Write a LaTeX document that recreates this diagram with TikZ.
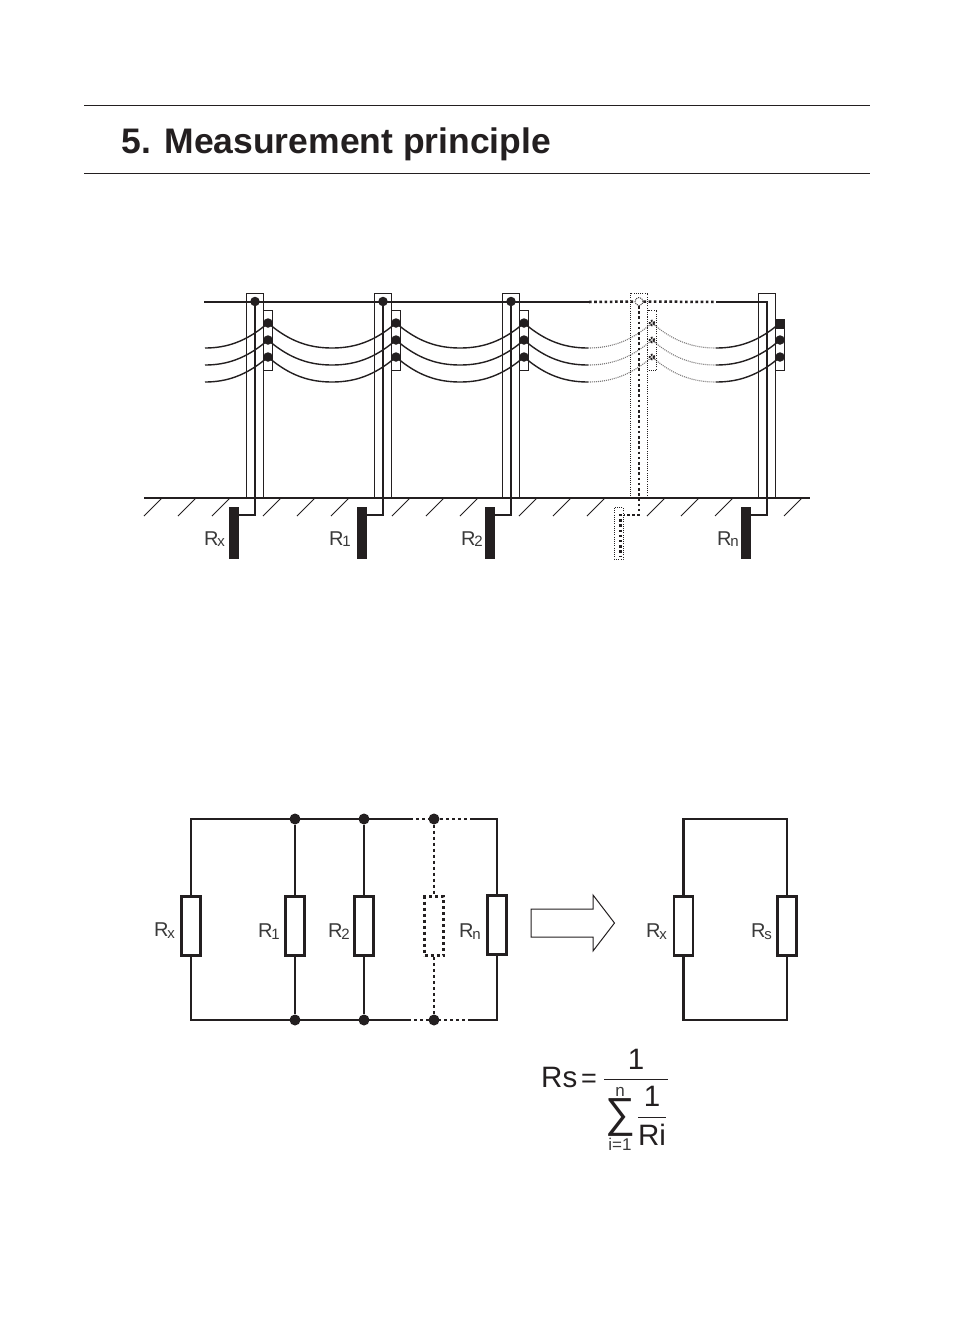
\documentclass[tikz,border=0pt]{standalone}
\usepackage{fontspec}
\setmainfont{Liberation Sans}
\newcommand{\fs}[1]{\fontsize{#1}{#1}\selectfont}
\definecolor{ink}{HTML}{231F20}
\definecolor{lab}{HTML}{3A3A3A}
\tikzset{
  rulel/.style={draw=ink,line width=1pt},
  polebox/.style={draw=ink,line width=1pt,fill=none},
  dotbox/.style={draw=ink,line width=1pt,dash pattern=on 1pt off 1.2pt},
  heavy/.style={draw=ink,line width=2.5pt},
  heavydot/.style={draw=ink,line width=2.5pt,dash pattern=on 2.6pt off 2.6pt},
  cable/.style={draw=ink,line width=1.4pt},
  cablefade/.style={draw=ink!60,line width=1.1pt,dash pattern=on 1pt off 1pt},
  jdot/.style={circle,fill=ink,inner sep=0pt,minimum size=9.5pt},
  cdot/.style={circle,fill=ink,inner sep=0pt,minimum size=11pt},
  elec/.style={rectangle,fill=ink,inner sep=0pt,minimum width=10pt,minimum height=52pt},
  wire/.style={draw=ink,line width=2.8pt},
  wiredot/.style={draw=ink,line width=2.8pt,dash pattern=on 3pt off 3pt},
  res/.style={rectangle,draw=ink,line width=2.8pt,fill=white,inner sep=0pt,minimum width=19pt,minimum height=59pt},
  resdot/.style={rectangle,draw=ink,line width=2.8pt,dash pattern=on 3pt off 3pt,fill=white,inner sep=0pt,minimum width=19pt,minimum height=59pt},
  rlabel/.style={anchor=base west,inner sep=0pt,text=lab,font=\fs{20}},
  eqn/.style={inner sep=0pt,text=ink,font=\fs{29.5}},
}
\newcommand{\rsub}[1]{R\kern-1.2pt\raisebox{-1.5pt}{\fs{15}#1}}
\begin{document}
\begin{tikzpicture}[x=1pt,y=-1pt]
\useasboundingbox[fill=white] (0,0) rectangle (954,1339);
% heading
\coordinate (ra) at (84,105.5); \coordinate (rb) at (870,105.5);
\coordinate (rc) at (84,173.5); \coordinate (rd) at (870,173.5);
\draw[rulel] (ra) -- (rb);
\draw[rulel] (rc) -- (rd);
\node[anchor=base west,inner sep=0pt,text=ink,font=\fs{35.5}\bfseries] (title) at (121.5,153.5) {5. Measurement principle};
% ground
\coordinate (g1) at (144,498); \coordinate (g2) at (810,498);
\draw[rulel,line width=1.1pt] (g1) -- (g2);
\foreach \h in {162,196,230,281,315,349,410,444,478,537,571,605,665,699,733,802}
  \draw[ink,line width=1pt] (\h,498) -- ++(-18,18);
% cables
\foreach \yy in {0,17,34}{
  \begin{scope}[yshift=-\yy pt]
  \draw[cable] (205,348) .. controls (226,348) and (246,342) .. (268,323)
     .. controls (290,342) and (310,348) .. (332,348)
     .. controls (354,348) and (374,342) .. (396,323)
     .. controls (418,342) and (438,348) .. (460,348)
     .. controls (482,348) and (502,342) .. (524,323)
     .. controls (546,342) and (566,348) .. (588,348);
  \draw[cablefade] (588,348) .. controls (610,348) and (630,342) .. (652,323)
     .. controls (674,342) and (694,348) .. (716,348);
  \draw[cable] (716,348) .. controls (738,348) and (758,342) .. (780,323);
  \end{scope}
}
% poles
\foreach \n/\x/\lab/\lx in {x/255/x/204,a/383/1/329,b/511/2/461}{
  \draw[polebox] (\x-8.5,293) rectangle (\x+8.5,498);
  \draw[polebox] (\x+8.5,310) rectangle (\x+17.5,370.5);
  \node[jdot] (top\n) at (\x,301.5) {};
  \node[jdot] (i1\n) at (\x+13,323) {};
  \node[jdot] (i2\n) at (\x+13,340) {};
  \node[jdot] (i3\n) at (\x+13,357) {};
  \node[elec,anchor=north east] (e\n) at (\x-16,506.5) {};
  \coordinate (k\n) at (\x,515);
  \draw[heavy,line join=miter] (top\n.center) -- (k\n) -- (e\n.east |- k\n);
  \node[rlabel] (l\n) at (\lx,545) {\rsub{\lab}};
}
% phantom pole
\draw[dotbox] (630.5,293) rectangle (647.5,498);
\draw[dotbox] (647.5,310) rectangle (656.5,370.5);
\node[circle,draw=ink,line width=0.9pt,dash pattern=on 1pt off 1pt,fill=white,inner sep=0pt,minimum size=8pt] (topd) at (639,301.5) {};
\foreach \i/\yy in {1/323,2/340,3/357}
  \node[circle,draw=ink,line width=2pt,dash pattern=on 1.6pt off 1.4pt,inner sep=0pt,minimum size=4.5pt] (i\i d) at (652,\yy) {};
\node[rectangle,draw=ink,line width=1pt,dash pattern=on 1pt off 1.2pt,inner sep=0pt,minimum width=9pt,minimum height=52pt,anchor=north west] (ed) at (613.5,507) {};
\coordinate (kd) at (639,515);
\draw[heavydot] (topd.south) -- (kd) -- (ed.east |- kd);
\coordinate (ea) at (620.5,514); \coordinate (eb) at (620.5,556);
\draw[draw=ink,line width=2.2pt,dash pattern=on 2.4pt off 2.8pt] (ea) -- (eb);
% last pole
\draw[polebox] (758.5,293) rectangle (775.5,498);
\draw[polebox] (775.5,319) rectangle (784.5,370.5);
\node[jdot] (i2n) at (780,340) {};
\node[jdot] (i3n) at (780,357) {};
\node[rectangle,fill=ink,inner sep=0pt,minimum width=9pt,minimum height=10pt] (i1n) at (780,324) {};
\node[elec,anchor=north west] (en) at (741,506.5) {};
\coordinate (kn) at (767,515);
\coordinate (cn) at (767,302);
\coordinate (w1) at (204,302); \coordinate (w2) at (589,302); \coordinate (w3) at (716,302);
\draw[heavy] (w1) -- (w2);
\draw[heavydot] (w2) -- (topd.west);
\draw[heavydot] (topd.east) -- (w3);
\draw[heavy,line join=miter] (w3) -- (cn) -- (kn) -- (en.east |- kn);
\node[rlabel] (ln) at (717,545) {\rsub{n}};
% left circuit
\coordinate (tl) at (191,819); \coordinate (bl) at (191,1020);
\coordinate (tr) at (497,819); \coordinate (br) at (497,1020);
\coordinate (ts) at (410,819); \coordinate (te) at (470,819);
\coordinate (bs) at (408,1020); \coordinate (be) at (470,1020);
\node[res] (rx) at (191,926) {};
\node[res] (r1) at (295,926) {};
\node[res] (r2) at (364,926) {};
\node[resdot] (rd) at (434,926) {};
\node[res] (rn) at (497,925) {};
\node[cdot] (t1) at (295,819) {}; \node[cdot] (t2) at (364,819) {}; \node[cdot] (t3) at (434,819) {};
\node[cdot] (b1) at (295,1020) {}; \node[cdot] (b2) at (364,1020) {}; \node[cdot] (b3) at (434,1020) {};
\draw[wire,line join=miter] (ts) -- (tl) -- (rx.north);
\draw[wire,line join=miter] (bs) -- (bl) -- (rx.south);
\draw[wire,line join=miter] (te) -- (tr) -- (rn.north);
\draw[wire,line join=miter] (be) -- (br) -- (rn.south);
\draw[wiredot] (ts) -- (te);
\draw[wiredot] (bs) -- (be);
\draw[wire] (t1) -- (r1); \draw[wire] (r1) -- (b1);
\draw[wire] (t2) -- (r2); \draw[wire] (r2) -- (b2);
\draw[wiredot] (t3) -- (rd); \draw[wiredot] (rd) -- (b3);
\node[rlabel] (lrx) at (154,936.5) {\rsub{x}};
\node[rlabel] (lr1) at (258,937.5) {\rsub{1}};
\node[rlabel] (lr2) at (328,937.5) {\rsub{2}};
\node[rlabel] (lrn) at (459,937.5) {\rsub{n}};
% arrow
\coordinate (a1) at (531,909); \coordinate (a2) at (593,909); \coordinate (a3) at (593,895);
\coordinate (a4) at (614.5,923); \coordinate (a5) at (593,951); \coordinate (a6) at (593,937);
\coordinate (a7) at (531,937);
\draw[ink,line width=1pt,line join=miter] (a1) -- (a2) -- (a3) -- (a4) -- (a5) -- (a6) -- (a7) -- cycle;
% right circuit
\coordinate (rtl) at (684,819); \coordinate (rtr) at (787,819);
\coordinate (rbl) at (684,1020); \coordinate (rbr) at (787,1020);
\node[res] (rrx) at (683.5,926) {};
\node[res] (rrs) at (787,926) {};
\draw[wire,line join=miter] (rrx.north) -- (rrx.north |- rtl) -- (rtr) -- (rrs.north);
\draw[wire,line join=miter] (rrx.south) -- (rrx.south |- rbl) -- (rbr) -- (rrs.south);
\node[rlabel] (lrrx) at (646,937.5) {\rsub{x}};
\node[rlabel] (lrrs) at (751,937.5) {\rsub{s}};
% formula
\node[eqn,anchor=base west] (rs) at (541,1087) {Rs};
\node[eqn,anchor=base west,font=\fs{27}] (eq) at (581,1087) {=};
\coordinate (f1) at (604,1079.5); \coordinate (f2) at (668,1079.5);
\draw[ink,line width=1pt] (f1) -- (f2);
\node[eqn,anchor=base] (one) at (636,1069) {1};
\node[inner sep=0pt,text=ink,font=\fs{42}] (sum) at (620.5,1117) {∑};
\node[inner sep=0pt,text=lab,font=\fs{17},anchor=base] (nn) at (620,1096) {n};
\node[inner sep=0pt,text=lab,font=\fs{17},anchor=base] (ii) at (620,1150.5) {i=1};
\coordinate (f3) at (638,1117); \coordinate (f4) at (666,1117);
\draw[ink,line width=1pt] (f3) -- (f4);
\node[eqn,anchor=base] (one2) at (652,1106) {1};
\node[eqn,anchor=base] (ri) at (652,1145) {Ri};
\end{tikzpicture}
\end{document}
